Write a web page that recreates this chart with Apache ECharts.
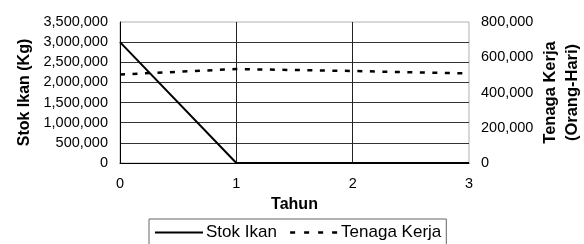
<!DOCTYPE html>
<html><head><meta charset="utf-8">
<script src="https://cdn.jsdelivr.net/npm/echarts@6/dist/echarts.min.js"></script>
<style>html,body{margin:0;padding:0;background:#fff}#c{width:584px;height:244px}</style>
</head><body><div id="c"></div>
<script>
const years = [0, 1, 2, 3];
const stokIkan = [3000000, 0, 0, 0];
const tenagaKerja = [502000, 533000, 522000, 508000];
const seriesNames = ['Stok Ikan', 'Tenaga Kerja'];
const axisTitles = ['Tahun', 'Stok Ikan (Kg)', 'Tenaga Kerja\n(Orang-Hari)'];

const font = 'Liberation Sans, Arial, sans-serif';
const chart = echarts.init(document.getElementById('c'), null, {renderer: 'canvas'});
chart.setOption({
  animation: false,
  textStyle: {fontFamily: font},
  grid: {left: 120, right: 115, top: 22, bottom: 81, show: true, borderColor: '#b0b0b0', borderWidth: 1,
         containLabel: false, outerBoundsMode: 'none'},
  xAxis: {
    type: 'value', min: 0, max: 3, interval: 1,
    name: axisTitles[0], nameLocation: 'middle', nameGap: 34, nameMoveOverlap: false,
    nameTextStyle: {fontFamily: font, fontWeight: 'bold', fontSize: 16, color: '#000'},
    axisLine: {lineStyle: {color: '#000', width: 1}},
    axisTick: {show: false},
    axisLabel: {color: '#000', fontSize: 14.5, margin: 13, fontFamily: font},
    splitLine: {show: true, showMinLine: false, showMaxLine: false, lineStyle: {color: '#222', width: 1}}
  },
  yAxis: [{
    type: 'value', min: 0, max: 3500000, interval: 500000,
    name: axisTitles[1], nameLocation: 'middle', nameRotate: 90, nameGap: 87, nameMoveOverlap: false,
    nameTextStyle: {fontFamily: font, fontWeight: 'bold', fontSize: 16, color: '#000'},
    axisLine: {show: true, lineStyle: {color: '#000', width: 1}},
    axisTick: {show: false},
    axisLabel: {color: '#000', fontSize: 14.5, margin: 12, fontFamily: font},
    splitLine: {show: true, showMinLine: false, showMaxLine: false, lineStyle: {color: '#333', width: 1}}
  }, {
    type: 'value', min: 0, max: 800000, interval: 200000, position: 'right',
    name: axisTitles[2], nameLocation: 'middle', nameRotate: 90, nameGap: 70, nameMoveOverlap: false,
    nameTextStyle: {fontFamily: font, fontWeight: 'bold', fontSize: 16.5, color: '#000', lineHeight: 22},
    axisLine: {show: false},
    axisTick: {show: false},
    axisLabel: {color: '#000', fontSize: 14.5, margin: 12, fontFamily: font},
    splitLine: {show: false}
  }],
  legend: {
    data: [
      {name: seriesNames[0]},
      {name: seriesNames[1], lineStyle: {type: [5, 9], width: 2.5}}
    ],
    left: 149, top: 219,
    borderColor: '#666', borderWidth: 1, padding: [5, 5, 10, 5],
    itemWidth: 48, itemHeight: 14, itemGap: 12,
    itemStyle: {color: 'transparent', borderColor: 'transparent', borderWidth: 0},
    textStyle: {color: '#000', fontSize: 17, fontFamily: font, padding: [0, 0, 0, -2]}
  },
  series: [{
    name: seriesNames[0], type: 'line', yAxisIndex: 0, symbol: 'none',
    data: years.map((x, i) => [x, stokIkan[i]]),
    lineStyle: {color: '#000', width: 2}, itemStyle: {color: '#000'}
  }, {
    name: seriesNames[1], type: 'line', yAxisIndex: 1, symbol: 'none',
    data: years.map((x, i) => [x, tenagaKerja[i]]),
    lineStyle: {color: '#000', width: 2.5, type: [5, 7.5]}, itemStyle: {color: '#000'}
  }]
});
</script></body></html>
